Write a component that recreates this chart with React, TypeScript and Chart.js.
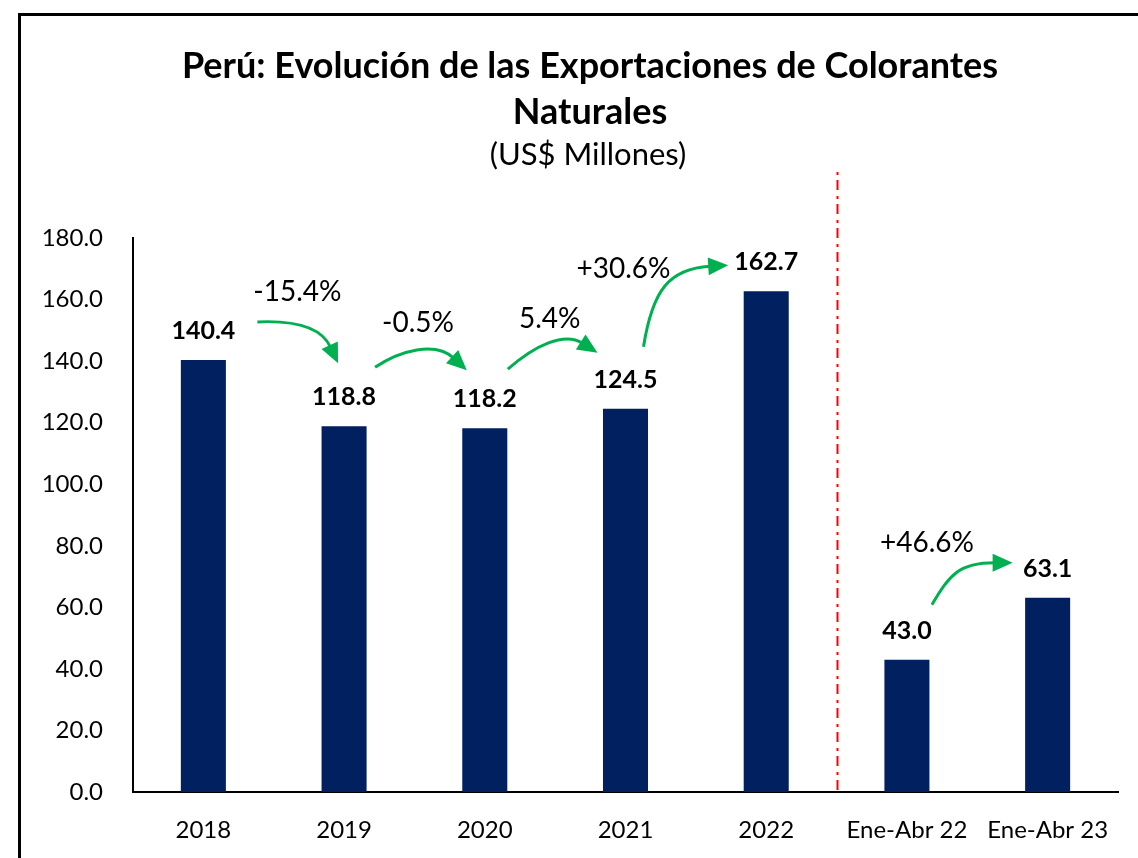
import React, { useEffect, useRef } from "react";
import { Chart, registerables } from "chart.js";

Chart.register(...registerables);

const categories = ["2018", "2019", "2020", "2021", "2022", "Ene-Abr 22", "Ene-Abr 23"];
const exportValues = [140.4, 118.8, 118.2, 124.5, 162.7, 43.0, 63.1];
const yTicks = [0, 20, 40, 60, 80, 100, 120, 140, 160, 180];
const changeLabels = ["-15.4%", "-0.5%", "5.4%", "+30.6%", "+46.6%"];
const changeFrom = [0, 1, 2, 3, 5];
const changeTo = [1, 2, 3, 4, 6];

const titleLines = ["Perú: Evolución de las Exportaciones de Colorantes", "Naturales"];
const subtitleText = "(US$ Millones)";

const FONT = "Lato, 'Open Sans', sans-serif";
const BAR_COLOR = "#00205F";
const ARROW_COLOR = "#00B050";

// arrow geometry offsets: start & cp1 relative to source bar top, cp2 & end relative to target bar top
const arrowLayout = [
  { s: [54, -38], c1: [97, -40], c2: [-19, -91], e: [-6, -63], t: [94, -68] },
  { s: [31, -59], c1: [56, -76], c2: [-45, -83], e: [-18, -58], t: [74, -103] },
  { s: [23, -59], c1: [50, -83], c2: [-56, -74], e: [-28, -56], t: [65, -109] },
  { s: [18, -62], c1: [27, -119], c2: [-91, -23], e: [-38, -26], t: [-2, -140] },
  { s: [25, -55], c1: [43, -85], c2: [-83, -35], e: [-35, -35], t: [20, -117] },
];

const decorPlugin = {
  id: "decor",
  beforeDraw(chart: any) {
    const ctx = chart.ctx;
    ctx.save();
    ctx.fillStyle = "#ffffff";
    ctx.fillRect(0, 0, chart.width, chart.height);
    ctx.strokeStyle = "#000";
    ctx.lineWidth = 3;
    ctx.strokeRect(19.5, 14.5, chart.width + 20, chart.height + 20);
    ctx.fillStyle = "#000";
    ctx.textAlign = "center";
    ctx.textBaseline = "middle";
    ctx.font = `bold 36px ${FONT}`;
    ctx.fillText(titleLines[0], 590, 66);
    ctx.fillText(titleLines[1], 590, 112);
    ctx.font = `31px ${FONT}`;
    ctx.fillText(subtitleText, 588, 155);
    ctx.restore();
  },
  afterDatasetsDraw(chart: any) {
    const ctx = chart.ctx;
    const xs = chart.scales.x;
    const ys = chart.scales.y;
    ctx.save();
    // separator line
    const sx = Math.round(xs.getPixelForValue(4.5)) + 0.5;
    ctx.strokeStyle = "#FF0000";
    ctx.lineWidth = 2;
    ctx.setLineDash([10, 5, 3, 6]);
    ctx.beginPath();
    ctx.moveTo(sx, ys.getPixelForValue(0) - 2);
    ctx.lineTo(sx, ys.top - 66);
    ctx.stroke();
    ctx.setLineDash([]);

    // value labels
    ctx.fillStyle = "#000";
    ctx.textAlign = "center";
    ctx.textBaseline = "middle";
    ctx.font = `bold 25px ${FONT}`;
    exportValues.forEach((v, i) => {
      ctx.fillText(v.toFixed(1), xs.getPixelForValue(i), ys.getPixelForValue(v) - 29);
    });

    // arrows
    changeLabels.forEach((lab, k) => {
      const a = changeFrom[k];
      const b = changeTo[k];
      const ax = xs.getPixelForValue(a);
      const ay = ys.getPixelForValue(exportValues[a]);
      const bx = xs.getPixelForValue(b);
      const by = ys.getPixelForValue(exportValues[b]);
      const L = arrowLayout[k];
      const s = [ax + L.s[0], ay + L.s[1]];
      const c1 = [ax + L.c1[0], ay + L.c1[1]];
      const c2 = [bx + L.c2[0], by + L.c2[1]];
      const e = [bx + L.e[0], by + L.e[1]];
      const dx = e[0] - c2[0];
      const dy = e[1] - c2[1];
      const len = Math.hypot(dx, dy);
      const ux = dx / len;
      const uy = dy / len;
      const headLen = 20;
      const headHalf = 9;
      const base = [e[0] - ux * headLen, e[1] - uy * headLen];
      ctx.strokeStyle = ARROW_COLOR;
      ctx.fillStyle = ARROW_COLOR;
      ctx.lineWidth = 3;
      ctx.beginPath();
      ctx.moveTo(s[0], s[1]);
      ctx.bezierCurveTo(c1[0], c1[1], c2[0] - ux * 6, c2[1] - uy * 6, base[0] + ux * 2, base[1] + uy * 2);
      ctx.stroke();
      ctx.beginPath();
      ctx.moveTo(e[0], e[1]);
      ctx.lineTo(base[0] - uy * headHalf, base[1] + ux * headHalf);
      ctx.lineTo(base[0] + uy * headHalf, base[1] - ux * headHalf);
      ctx.closePath();
      ctx.fill();
      ctx.fillStyle = "#000";
      ctx.font = `28px ${FONT}`;
      ctx.fillText(lab, ax + L.t[0], ay + L.t[1]);
    });
    ctx.restore();
  },
};

export default function App() {
  const ref = useRef<HTMLCanvasElement>(null);
  useEffect(() => {
    if (!ref.current) return;
    const chart = new Chart(ref.current, {
      type: "bar",
      data: {
        labels: categories,
        datasets: [
          {
            data: exportValues,
            backgroundColor: BAR_COLOR,
            barPercentage: 0.32,
            categoryPercentage: 1,
          },
        ],
      },
      options: {
        responsive: false,
        animation: false,
        layout: { padding: { top: 238, left: 20, right: 20, bottom: 0 } },
        plugins: { legend: { display: false }, tooltip: { enabled: false }, title: { display: false } },
        scales: {
          x: {
            grid: { display: false, drawTicks: false },
            border: { display: true, color: "#000", width: 2 },
            ticks: { color: "#000", font: { family: FONT, size: 24 }, padding: 24, maxRotation: 0, autoSkip: false },
            afterFit(scale: any) {
              scale.height = 66;
            },
          },
          y: {
            min: 0,
            max: 180,
            afterBuildTicks(scale: any) {
              scale.ticks = yTicks.map((v) => ({ value: v }));
            },
            grid: { display: false, drawTicks: false },
            border: { display: true, color: "#000", width: 2 },
            ticks: {
              color: "#000",
              font: { family: FONT, size: 24 },
              padding: 30,
              callback: (v: any) => Number(v).toFixed(1),
            },
            afterFit(scale: any) {
              scale.width = 113;
            },
          },
        },
      },
      plugins: [decorPlugin],
    } as any);
    return () => chart.destroy();
  }, []);
  return (
    <div style={{ position: "fixed", left: 0, top: 0, width: 1138, height: 858 }}>
      <canvas ref={ref} width={1138} height={858} style={{ display: "block" }} />
    </div>
  );
}
